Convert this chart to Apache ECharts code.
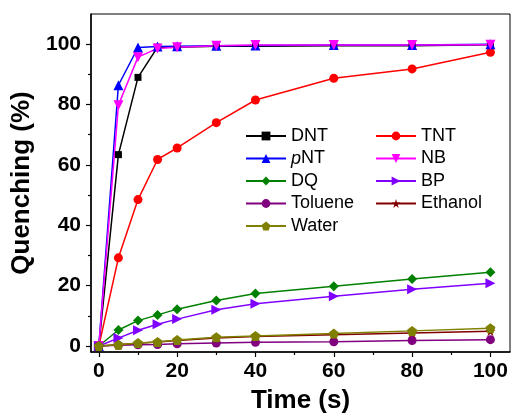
<!DOCTYPE html>
<html>
<head>
<meta charset="utf-8">
<script src="https://cdn.jsdelivr.net/npm/echarts@6/dist/echarts.min.js"></script>
<style>html,body{margin:0;padding:0;background:#fff}#c{width:515px;height:419px}</style>
</head>
<body>
<div id="c"></div>
<script>
const times = [0, 5, 10, 15, 20, 30, 40, 60, 80, 100];
const DNT = [0, 63.4, 89, 99, 99, 99.3, 99.3, 99.5, 99.5, 99.8];
const TNT = [0, 29.2, 48.5, 61.8, 65.6, 74, 81.5, 88.7, 91.8, 97.3];
const pNT = [0, 86.4, 98.9, 99.2, 99.3, 99.5, 99.6, 99.7, 99.7, 100];
const NB = [0, 79.8, 95.7, 98.6, 99, 99.5, 99.7, 99.7, 99.7, 99.8];
const DQ = [0, 5.3, 8.4, 10.3, 12.2, 15.1, 17.4, 19.8, 22.2, 24.4];
const BP = [0, 2.6, 5.2, 7.2, 8.9, 12, 14, 16.5, 18.8, 20.8];
const Toluene = [0, 0.2, 0.4, 0.5, 0.7, 1.0, 1.2, 1.4, 1.8, 2.1];
const Ethanol = [0, 0.4, 0.9, 1.3, 1.8, 2.6, 3.1, 3.7, 4.3, 4.9];
const Water = [0, 0.4, 1.0, 1.3, 2.0, 2.9, 3.3, 4.1, 5.0, 5.9];
const yTicks = [0, 20, 40, 60, 80, 100];
const yMinor = [10, 30, 50, 70, 90];
const xTicks = [0, 20, 40, 60, 80, 100];
const xMinor = [10, 30, 50, 70, 90];

const FONT = '"Liberation Sans", Arial, sans-serif';
const STAR = 'path://M50,0 L61,35 L98,35 L68,57 L79,92 L50,70 L21,92 L32,57 L2,35 L39,35 Z';
const PENT = 'path://M50,0 L100,36 L81,95 L19,95 L0,36 Z';
const DTRI = 'path://M0,0 L100,0 L50,87 Z';
const RTRI = 'path://M0,0 L87,50 L0,100 Z';

const defs = [
  ['DNT', DNT, '#000000', 'rect', 7],
  ['TNT', TNT, '#FF0000', 'circle', 9],
  ['pNT', pNT, '#0000FF', 'triangle', 10],
  ['NB', NB, '#FF00FF', DTRI, 10],
  ['DQ', DQ, '#008000', 'diamond', 10],
  ['BP', BP, '#8000FF', RTRI, 10],
  ['Toluene', Toluene, '#800080', 'circle', 9],
  ['Ethanol', Ethanol, '#800000', STAR, 10],
  ['Water', Water, '#808000', PENT, 10]
];

const series = defs.map(d => ({
  name: d[0], type: 'line',
  data: times.map((t, i) => [t, d[1][i]]),
  symbol: d[3], symbolSize: d[4],
  lineStyle: {color: d[2], width: 1.5},
  itemStyle: {color: d[2]},
  emphasis: {disabled: true},
  animation: false
}));

const legendBase = {
  orient: 'vertical', padding: 0,
  itemWidth: 40, itemHeight: 11, itemGap: 4.5,
  textStyle: {fontFamily: FONT, fontSize: 18, color: '#000',
    rich: {i: {fontFamily: FONT, fontSize: 18, fontStyle: 'italic', color: '#000', lineHeight: 18},
           n: {fontFamily: FONT, fontSize: 18, fontStyle: 'normal', color: '#000', lineHeight: 18}}},
  formatter: n => n === 'pNT' ? '{i|p}{n|NT}' : '{n|' + n + '}',
  selectedMode: false
};

const chart = echarts.init(document.getElementById('c'), null, {renderer: 'canvas'});
chart.setOption({
  backgroundColor: '#fff',
  animation: false,
  grid: {left: 91, right: 5, top: 14, bottom: 67, show: true, borderColor: '#000', borderWidth: 1},
  legend: [
    Object.assign({}, legendBase, {left: 245, top: 127, data: ['DNT', 'pNT', 'DQ', 'Toluene', 'Water']}),
    Object.assign({}, legendBase, {left: 375, top: 127, data: ['TNT', 'NB', 'BP', 'Ethanol']})
  ],
  xAxis: [{
    type: 'value', min: -2, max: 105,
    name: 'Time (s)', nameLocation: 'middle', nameGap: 36,
    nameTextStyle: {fontFamily: FONT, fontSize: 26, fontWeight: 'bold', color: '#000'},
    axisLine: {onZero: false, lineStyle: {color: '#000', width: 1.5}},
    axisTick: {show: true, inside: false, length: 5, lineStyle: {color: '#000', width: 1.2}, customValues: xTicks},
    axisLabel: {fontFamily: FONT, fontSize: 21, fontWeight: 'bold', color: '#000', margin: 9, customValues: xTicks},
    splitLine: {show: false}
  }, {
    type: 'value', min: -2, max: 105, position: 'bottom',
    axisLine: {show: false, onZero: false},
    axisTick: {show: true, inside: false, length: 3, lineStyle: {color: '#000', width: 1.2}, customValues: xMinor},
    axisLabel: {show: false}, splitLine: {show: false}
  }],
  yAxis: [{
    type: 'value', min: -2, max: 110,
    name: 'Quenching (%)', nameLocation: 'middle', nameGap: 52,
    nameTextStyle: {fontFamily: FONT, fontSize: 26, fontWeight: 'bold', color: '#000'},
    axisLine: {show: true, onZero: false, lineStyle: {color: '#000', width: 1.5}},
    axisTick: {show: true, inside: false, length: 5, lineStyle: {color: '#000', width: 1.2}, customValues: yTicks},
    axisLabel: {fontFamily: FONT, fontSize: 21, fontWeight: 'bold', color: '#000', margin: 10, customValues: yTicks},
    splitLine: {show: false}
  }, {
    type: 'value', min: -2, max: 110, position: 'left',
    axisLine: {show: false, onZero: false},
    axisTick: {show: true, inside: false, length: 3, lineStyle: {color: '#000', width: 1.2}, customValues: yMinor},
    axisLabel: {show: false}, splitLine: {show: false}
  }],
  series: series
});
</script>
</body>
</html>
